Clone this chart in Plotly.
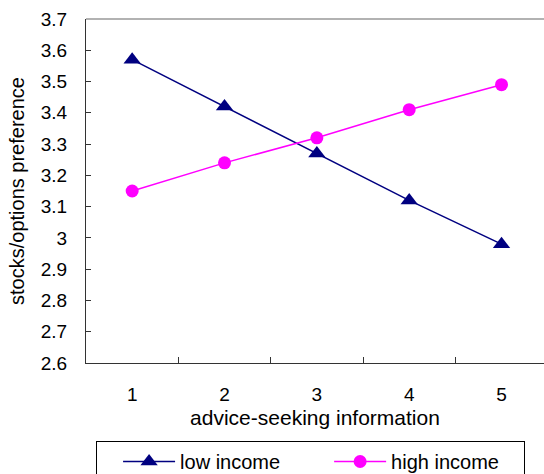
import plotly.graph_objects as go

categories = [1, 2, 3, 4, 5]
low_income = [3.57, 3.42, 3.27, 3.12, 2.98]
high_income = [3.15, 3.24, 3.32, 3.41, 3.49]
y_tickvals = [2.6, 2.7, 2.8, 2.9, 3.0, 3.1, 3.2, 3.3, 3.4, 3.5, 3.6, 3.7]
y_ticktext = ["2.6", "2.7", "2.8", "2.9", "3", "3.1", "3.2", "3.3", "3.4", "3.5", "3.6", "3.7"]
x_ticktext = ["1", "2", "3", "4", "5"]
series_names = ["low income", "high income"]

FONT = "Liberation Sans, Arial, sans-serif"

fig = go.Figure()
fig.add_trace(go.Scatter(
    x=categories, y=low_income, name=series_names[0] + "\u2003\u2003\u2009", mode="lines+markers",
    line=dict(color="#000080", width=1.5),
    marker=dict(symbol="triangle-up", size=15, color="#000080"),
))
fig.add_trace(go.Scatter(
    x=categories, y=high_income, name=series_names[1] + "\u2003", mode="lines+markers",
    line=dict(color="#FF00FF", width=1.5),
    marker=dict(symbol="circle", size=13, color="#FF00FF"),
))

fig.update_layout(
    width=544, height=474,
    margin=dict(l=86, r=0, t=19, b=111, autoexpand=False),
    paper_bgcolor="white", plot_bgcolor="white",
    font=dict(family=FONT, size=18, color="black"),
    showlegend=True,
    legend=dict(
        orientation="h", x=0.022, xanchor="left", y=-0.2267, yanchor="top",
        bordercolor="black", borderwidth=1, font=dict(size=20),
        itemwidth=52,
        traceorder="normal",
        title=dict(text="\u2003", side="left", font=dict(size=11)),
    ),
    xaxis=dict(
        range=[0.5, 5.46], tickmode="array", tickvals=categories, ticktext=x_ticktext,
        ticks="", showgrid=False, zeroline=False,
        showline=True, linecolor="#333", linewidth=1,
        tickfont=dict(size=19), ticklabelstandoff=14,
        title=dict(text="advice-seeking information", font=dict(size=21), standoff=6),
        minor=dict(tickvals=[1.5, 2.5, 3.5, 4.5], ticks="inside", ticklen=6,
                   tickcolor="#333", tickwidth=1, showgrid=False),
    ),
    yaxis=dict(
        range=[2.6, 3.7], tickmode="array", tickvals=y_tickvals, ticktext=y_ticktext,
        ticks="inside", ticklen=5, tickcolor="#333", showgrid=False, zeroline=False,
        showline=True, linecolor="#333", linewidth=1,
        tickfont=dict(size=19), ticklabelstandoff=14,
        title=dict(text="stocks/options preference", font=dict(size=20), standoff=10),
    ),
    shapes=[dict(type="line", xref="paper", yref="paper", x0=0, x1=1, y0=1, y1=1,
                 line=dict(color="#999999", width=1.5))],
)

fig.write_html("out.html")
